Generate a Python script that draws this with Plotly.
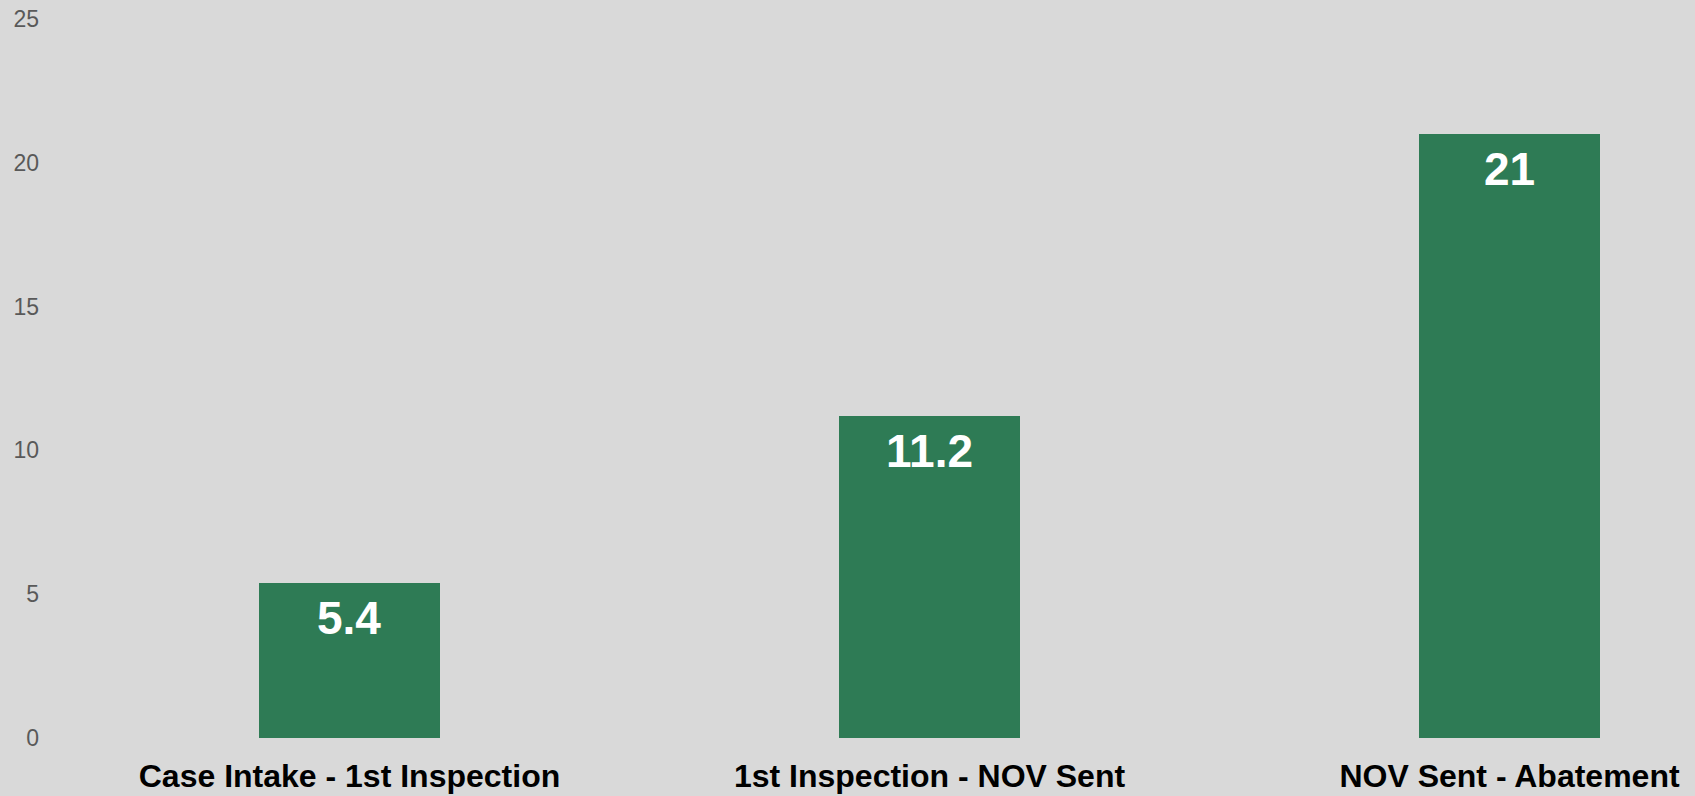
import plotly.graph_objects as go

categories = ["Case Intake - 1st Inspection", "1st Inspection - NOV Sent", "NOV Sent - Abatement"]
values = [5.4, 11.2, 21]
value_labels = ["5.4", "11.2", "21"]
y_ticks = [0, 5, 10, 15, 20, 25]

BAR_COLOR = "#2e7b55"
BG = "#d9d9d9"
FONT = "Liberation Sans, Arial, sans-serif"

fig = go.Figure()
fig.add_trace(go.Bar(
    x=list(range(len(categories))),
    y=values,
    width=0.312,
    marker=dict(color=BAR_COLOR, line=dict(width=0)),
    hoverinfo="skip",
))

for i, (v, lab) in enumerate(zip(values, value_labels)):
    fig.add_annotation(
        x=i, y=v, text=f"<b>{lab}</b>", showarrow=False,
        yanchor="top", yshift=-7,
        font=dict(family=FONT, size=46, color="white"),
    )

fig.update_layout(
    width=1695, height=796,
    margin=dict(l=40, r=0, t=19, b=58),
    paper_bgcolor=BG, plot_bgcolor=BG,
    showlegend=False,
    bargap=0,
)
fig.update_xaxes(
    range=[-0.5336, 2.3198],
    tickmode="array",
    tickvals=list(range(len(categories))),
    ticktext=[f"<b>{c}</b>" for c in categories],
    tickfont=dict(family=FONT, size=32, color="black"),
    ticklabelstandoff=16,
    showgrid=False, zeroline=False, showline=False, ticks="",
)
fig.update_yaxes(
    range=[0, 25],
    tickmode="array",
    tickvals=y_ticks,
    tickfont=dict(family=FONT, size=23, color="#595959"),
    showgrid=False, zeroline=False, showline=False, ticks="",
)

fig.write_html("out.html", config={"displayModeBar": False},
               post_script="document.body.style.margin='0';")
